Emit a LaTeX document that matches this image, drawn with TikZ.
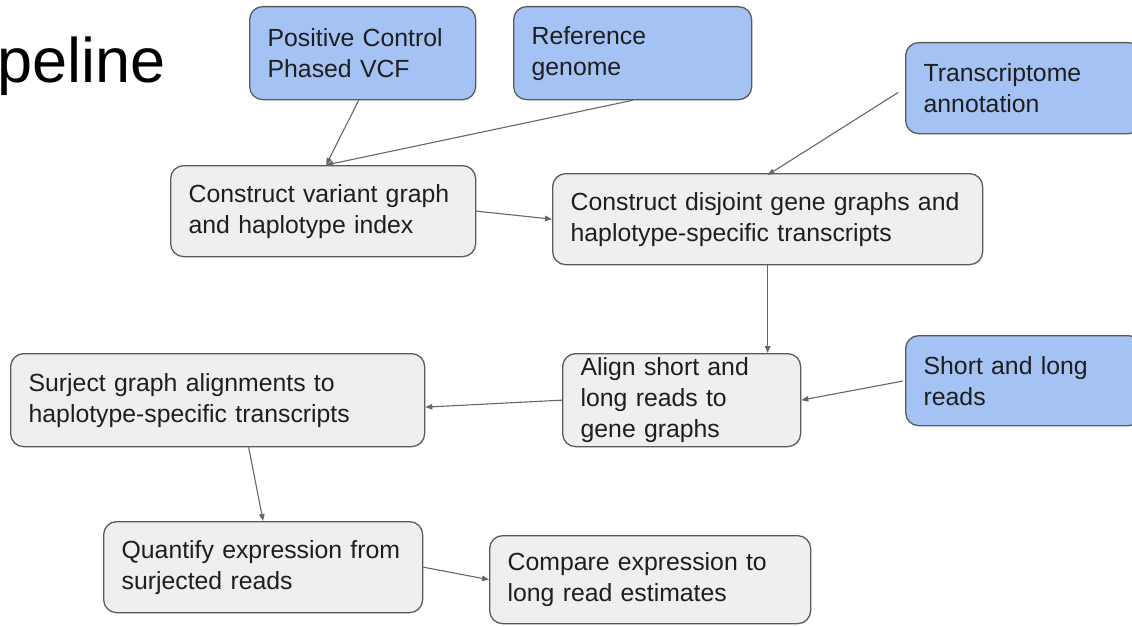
\documentclass[tikz,border=0pt]{standalone}
\usepackage{fontspec}
\setmainfont{Liberation Sans}
\usetikzlibrary{arrows.meta}
\definecolor{bluefill}{HTML}{A4C2F4}
\definecolor{grayfill}{HTML}{EFEFEF}
\definecolor{edgecol}{HTML}{5A5A5A}
\definecolor{arrowcol}{HTML}{666666}
\definecolor{txt}{HTML}{1E1E1E}
\begin{document}
\begin{tikzpicture}[x=1pt,y=-1pt,
  box/.style={draw=edgecol, line width=1.3pt, rounded corners=13pt, align=left,
    anchor=north west, inner xsep=18pt, inner ysep=0pt, text=txt,
    font=\fontsize{24.8}{31}\selectfont},
  inbox/.style={box, fill=bluefill},
  procbox/.style={box, fill=grayfill},
  conn/.style={draw=arrowcol, line width=1.1pt, -{Triangle[length=7pt,width=5.5pt]}}
]
\useasboundingbox (0,0) rectangle (1132,626);
\fill[white] (0,0) rectangle (1132,626);

\node[anchor=base west, inner sep=0pt, font=\fontsize{63}{66}\selectfont, text=black] (title) at (-3,82) {peline};

\node[inbox, text width=190pt, minimum height=93pt] (PC) at (249,6) {Positive Control\\Phased VCF};
\node[inbox, text width=202pt, minimum height=93pt] (Ref) at (513,6) {Reference\\genome};
\node[inbox, text width=200pt, minimum height=91pt] (Trans) at (905,42) {Transcriptome\\annotation};
\node[procbox, text width=269pt, minimum height=91pt] (CVG) at (170,165) {Construct variant graph\\and haplotype index};
\node[procbox, text width=394pt, minimum height=91pt] (CDG) at (552,173) {Construct disjoint gene graphs and\\haplotype-specific transcripts};
\node[procbox, text width=202pt, minimum height=93pt] (Align) at (562,353) {Align short and\\long reads to\\gene graphs};
\node[inbox, text width=200pt, minimum height=90pt] (Short) at (905,335) {Short and long\\reads};
\node[procbox, text width=378pt, minimum height=93pt] (Surj) at (10,353) {Surject graph alignments to\\haplotype-specific transcripts};
\node[procbox, text width=283pt, minimum height=91pt] (Quant) at (103,521) {Quantify expression from\\surjected reads};
\node[procbox, text width=285pt, minimum height=88pt] (Comp) at (489,535) {Compare expression to\\long read estimates};

\draw[conn] ([xshift=-4pt]PC.south) -- ([xshift=3pt]CVG.north);
\draw[conn] (Ref.south) -- ([xshift=3pt]CVG.north);
\draw[conn, shorten <=8pt] (Trans.west) -- ([yshift=-2pt]CDG.north);
\draw[conn] (CVG.east) -- (CDG.west);
\draw[conn] (CDG.south) -- (CDG.south |- Align.north);
\draw[conn, shorten <=2pt] (Short.west) -- (Align.east);
\draw[conn] (Align.west) -- ([yshift=-7pt]Surj.east);
\draw[conn] ([xshift=31pt]Surj.south) -- (Quant.north);
\draw[conn] (Quant.east) -- (Comp.west);
\end{tikzpicture}
\end{document}
